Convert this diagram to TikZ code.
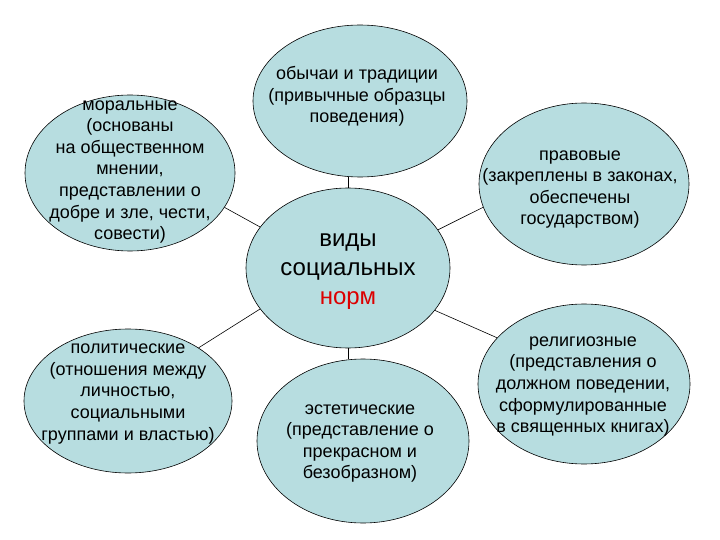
\documentclass[tikz,border=0pt]{standalone}
\usepackage{fontspec}
\setmainfont{Liberation Sans}
\usetikzlibrary{shapes.geometric}
\definecolor{ellfill}{RGB}{183,221,224}
\definecolor{normred}{RGB}{220,0,0}
\begin{document}
\begin{tikzpicture}[x=1pt,y=-1pt,
  ell/.style={ellipse,draw=black,line width=0.6pt,fill=ellfill,inner sep=0pt},
  txt/.style={align=center,inner sep=0pt,font=\fontsize{18}{21.6}\selectfont,text=black},
  bigtxt/.style={align=center,inner sep=0pt,font=\fontsize{24}{28.8}\selectfont,text=black},
  conn/.style={draw=black,line width=0.6pt}]
\useasboundingbox (0,0) rectangle (720,540);
% ellipses
\node[ell,minimum width=210pt,minimum height=156pt] (moral) at (130,173) {};
\node[ell,minimum width=214pt,minimum height=152pt] (custom) at (360,101) {};
\node[ell,minimum width=210pt,minimum height=162pt] (legal) at (584,184) {};
\node[ell,minimum width=204pt,minimum height=160pt] (central) at (348,268) {};
\node[ell,minimum width=208pt,minimum height=144pt] (polit) at (128,401) {};
\node[ell,minimum width=212pt,minimum height=164pt] (aest) at (363,441) {};
\node[ell,minimum width=212pt,minimum height=160pt] (relig) at (584,384) {};
% connectors
\draw[conn] (moral.340) -- (central.155);
\draw[conn] (central.23) -- (legal.193);
\draw[conn] (central.205) -- (polit.37);
\draw[conn] (central.334) -- (relig.152);
\draw[conn] (central.north) -- (central.north |- custom.south);
\draw[conn] (central.south) -- (central.south |- aest.north);
% texts
\node[txt] (moralt) at (130,172) {моральные\\(основаны\\на общественном\\мнении,\\представлении о\\добре и зле, чести,\\совести)};
\node[txt] (customt) at (357,96.5) {обычаи и традиции\\(привычные образцы\\поведения)};
\node[txt] (legalt) at (580,189.5) {правовые\\(закреплены в законах,\\обеспечены\\государством)};
\node[bigtxt] (centralt) at (348,271.5) {виды\\социальных\\\textcolor{normred}{норм}};
\node[txt] (politt) at (128,394) {политические\\(отношения между\\личностью,\\социальными\\группами и властью)};
\node[txt] (aestt) at (360,443.5) {эстетические\\(представление о\\прекрасном и\\безобразном)};
\node[txt] (deligt) at (583,386.5) {религиозные\\(представления о\\должном поведении,\\сформулированные\\в священных книгах)};
\end{tikzpicture}
\end{document}
